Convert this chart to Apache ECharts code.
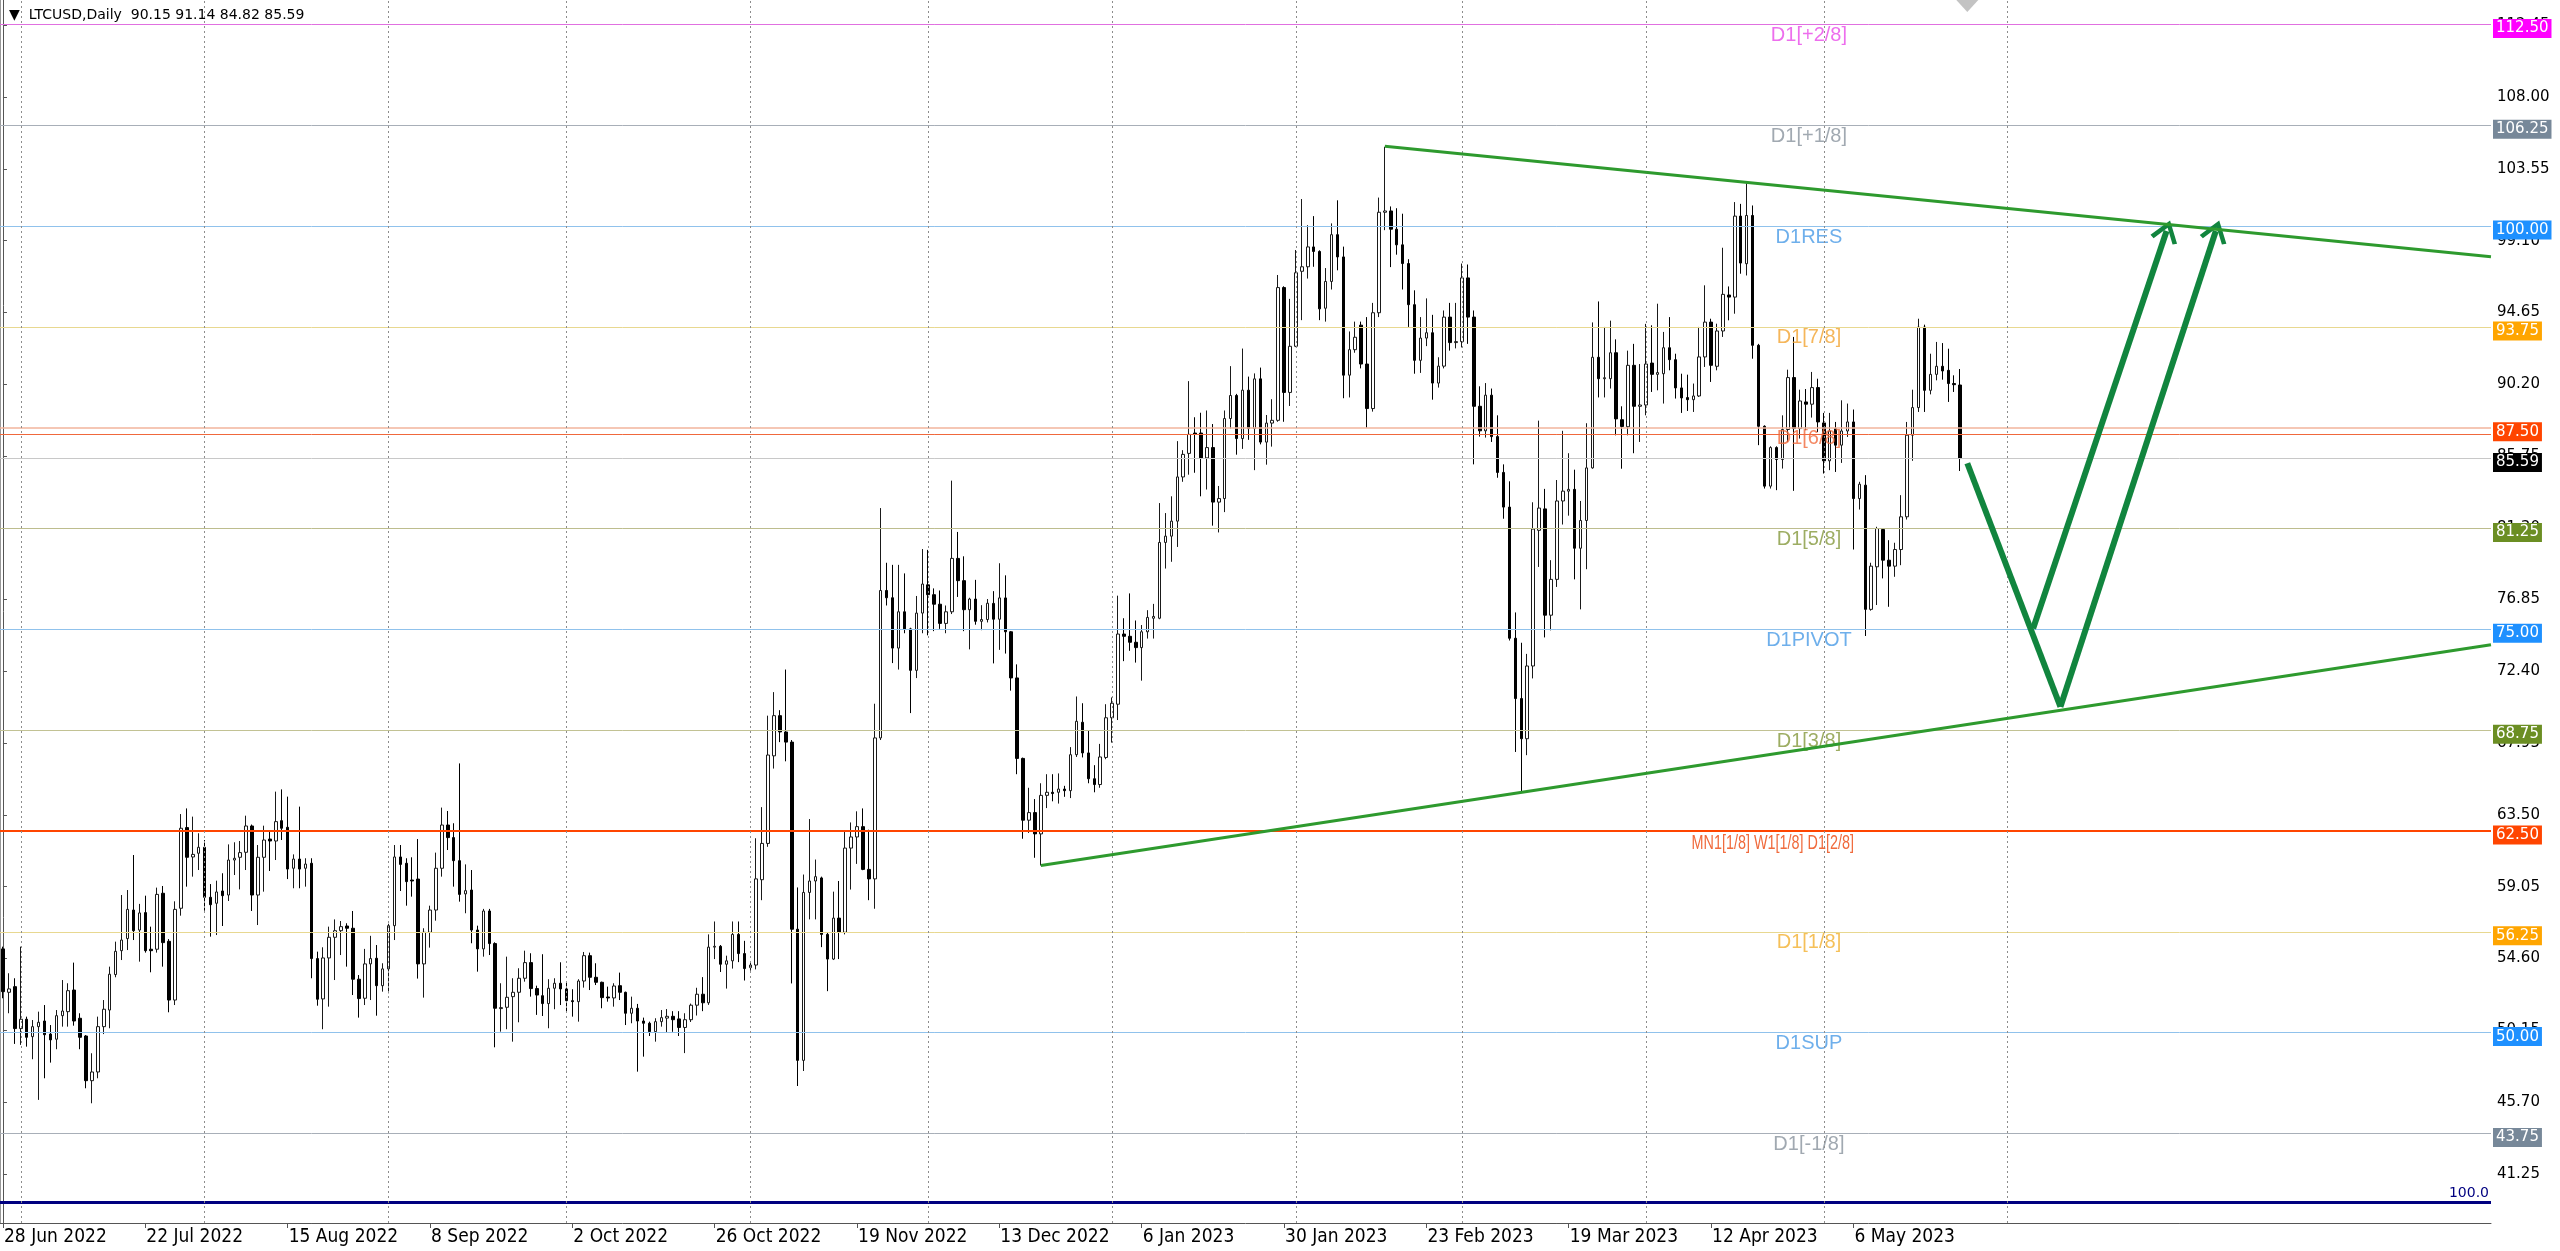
<!DOCTYPE html>
<html><head><meta charset="utf-8">
<script src="https://cdn.jsdelivr.net/npm/echarts@6/dist/echarts.min.js"></script>
<style>html,body{margin:0;padding:0;background:#fff;overflow:hidden}#c{width:2560px;height:1251px}</style>
</head><body><div id="c"></div>
<script>
// ---------------- data ----------------
const symbolName = 'LTCUSD,Daily';
const startDate = [2022, 5, 28]; // 28 Jun 2022 (first bar)
const openP = [55.19,52.50,52.85,50.25,50.83,49.75,50.37,50.72,49.91,49.59,51.05,51.30,52.64,50.89,49.79,47.02,47.56,50.37,51.40,53.60,55.08,55.83,57.60,56.36,57.44,55.17,55.17,58.64,55.66,52.02,57.71,62.71,60.89,61.12,61.49,58.39,58.02,58.78,58.53,60.70,60.87,61.18,62.81,58.53,60.87,62.00,61.88,63.14,62.73,60.19,60.76,60.19,60.50,54.59,52.09,54.63,55.91,56.32,56.61,56.47,53.31,52.13,54.26,54.61,52.91,53.95,56.63,60.89,60.50,59.46,59.52,54.26,56.22,57.60,60.19,62.87,62.09,60.66,58.60,58.84,56.36,55.19,57.54,55.52,51.49,51.57,52.23,52.50,53.37,54.34,52.73,52.29,51.80,52.75,53.06,52.71,51.98,51.92,53.20,54.77,53.43,53.12,52.21,52.15,52.91,52.50,51.20,51.51,50.72,50.58,50.06,50.68,50.90,51.01,50.85,50.32,50.80,51.70,52.38,51.85,55.30,55.35,54.24,54.45,56.09,54.90,54.03,54.19,59.48,61.73,67.16,69.65,68.64,68.01,56.41,48.28,58.69,59.40,59.59,56.09,54.56,57.10,56.22,61.44,62.13,62.77,60.12,59.53,68.27,77.41,76.96,73.84,76.09,75.03,72.46,76.01,77.76,77.15,76.56,75.37,76.09,79.40,78.02,76.22,76.88,75.50,75.61,76.61,75.63,76.95,74.85,71.99,67.00,63.17,63.64,62.32,64.71,64.90,64.90,65.10,65.00,67.23,69.24,67.34,65.74,65.38,67.06,69.52,70.36,74.71,74.57,74.20,73.87,74.85,75.69,75.69,80.39,80.78,81.71,84.45,85.91,87.17,87.17,85.63,86.27,82.89,83.11,88.07,89.50,86.83,89.83,87.45,90.53,86.61,87.79,87.96,96.19,89.69,92.55,97.20,97.48,98.71,98.43,94.91,96.57,99.47,98.09,90.76,92.34,93.86,91.45,88.69,94.63,100.86,100.94,99.81,98.84,97.68,95.13,91.68,93.06,93.39,90.27,91.32,94.36,92.78,92.84,96.79,94.36,88.83,87.31,89.52,86.95,84.73,82.58,74.45,70.71,68.22,72.73,81.14,82.47,75.88,78.10,82.96,83.57,83.68,80.03,81.75,85.01,91.87,90.54,90.54,92.15,88.00,87.56,91.37,88.83,88.91,91.51,90.81,90.85,92.46,91.72,89.97,89.37,89.24,89.47,91.89,94.05,91.31,93.50,95.73,95.60,100.62,97.67,100.66,92.61,87.59,83.88,86.27,85.53,87.39,90.61,87.45,89.10,88.96,89.99,87.80,85.45,87.45,86.42,87.30,87.86,83.11,83.94,76.24,78.88,81.19,79.29,78.92,79.95,81.98,87.04,88.75,93.74,89.82,90.81,91.31,91.06,90.24,90.15];
const highP = [55.33,53.68,53.37,55.33,50.99,50.78,51.30,51.71,50.47,51.40,53.26,53.06,54.34,51.20,49.85,48.72,50.99,52.02,54.09,55.64,58.53,58.84,61.01,57.98,58.49,56.57,58.99,59.09,55.80,58.14,63.55,63.90,63.39,62.36,61.94,59.21,59.42,59.88,61.67,61.80,61.88,63.45,62.90,61.63,62.83,62.46,64.94,65.08,64.63,61.05,64.01,60.81,60.81,55.02,55.29,56.57,57.02,56.92,56.78,57.54,53.57,55.19,56.00,55.43,54.30,56.75,61.63,61.63,60.81,60.87,62.00,56.47,57.87,61.16,63.95,63.74,62.98,66.69,60.43,60.08,56.63,57.67,57.67,55.60,53.06,54.71,53.37,53.99,55.08,54.92,52.91,54.86,53.31,53.37,54.36,53.16,52.69,53.31,55.00,54.96,54.30,53.16,52.85,53.06,53.72,52.54,52.23,51.78,50.93,50.68,50.89,51.40,51.46,51.33,51.33,51.20,51.80,52.78,53.44,56.09,56.89,55.43,54.77,56.89,56.89,55.69,54.37,62.05,63.98,69.65,71.11,69.99,72.51,68.14,59.00,59.80,63.24,60.73,59.67,56.20,58.74,59.40,62.50,63.03,63.72,63.90,62.58,70.39,82.52,79.13,79.00,79.00,78.47,75.10,77.07,79.98,79.93,77.54,77.41,76.48,84.22,81.04,79.53,76.96,78.07,76.50,76.88,77.37,79.10,78.35,74.90,72.83,67.05,65.18,64.48,65.46,66.02,66.02,66.07,65.30,67.70,70.84,70.42,68.74,66.58,67.90,70.36,70.78,77.09,75.69,77.23,75.55,75.27,76.19,76.58,82.83,82.21,83.25,86.67,86.11,90.39,88.15,88.43,88.57,87.73,83.89,88.57,91.32,89.60,92.41,90.67,90.87,91.23,88.29,89.27,96.97,96.27,95.49,98.52,101.68,100.06,100.62,98.50,97.40,100.17,101.60,98.73,93.47,94.08,94.08,94.36,95.24,101.77,104.92,101.22,101.11,100.77,97.95,96.02,94.36,95.52,94.50,91.87,94.77,95.24,95.24,97.68,97.62,94.77,90.07,90.27,89.93,88.27,85.23,84.18,76.05,74.17,73.48,82.88,87.94,83.71,79.29,84.26,87.31,85.92,84.90,82.96,87.78,94.03,95.33,93.75,94.14,92.98,88.83,92.28,92.70,91.45,93.94,93.85,95.19,93.44,94.36,92.09,90.85,90.79,90.24,93.75,96.33,94.26,93.95,98.66,96.26,101.49,101.38,102.66,101.28,92.70,87.65,86.35,86.35,88.27,91.10,93.13,89.86,89.90,90.96,90.54,88.42,88.42,87.86,89.20,89.00,88.63,84.15,84.56,79.13,81.36,81.25,80.53,80.37,83.32,87.86,89.86,94.26,93.89,92.09,92.82,92.75,92.40,90.75,91.14];
const lowP = [52.13,51.20,49.30,49.24,49.13,48.35,45.83,47.17,48.14,48.97,50.37,50.37,50.43,48.97,46.55,45.62,47.17,49.91,50.27,53.43,54.50,55.12,55.74,54.40,54.96,53.74,54.96,54.09,51.26,51.71,57.25,59.05,59.67,60.08,57.56,55.95,56.05,56.61,58.16,59.77,58.88,60.08,57.54,56.67,58.74,60.02,60.70,61.94,59.52,58.95,58.95,59.05,53.37,51.67,50.21,51.61,53.26,54.81,54.09,52.33,50.93,51.71,52.02,51.05,52.54,52.44,55.74,58.78,57.87,58.43,53.35,52.17,55.27,56.94,59.67,61.32,59.05,58.12,57.40,55.54,53.78,54.71,54.81,49.09,50.06,50.21,49.44,50.64,53.16,52.23,51.10,51.03,50.27,51.45,51.71,51.30,50.99,50.68,52.79,52.64,52.95,51.51,51.92,51.61,52.02,50.47,50.58,47.58,48.51,49.79,49.44,50.37,50.00,50.05,49.79,48.73,50.66,51.06,51.33,51.72,54.56,53.76,52.73,53.97,54.37,53.23,53.84,53.92,58.21,61.52,66.37,68.01,66.82,53.05,46.69,47.62,57.02,57.02,55.30,52.57,54.50,54.56,56.09,58.87,60.46,60.07,58.21,57.68,68.14,76.48,72.91,72.51,74.76,69.81,71.98,74.76,74.63,74.89,75.03,74.76,75.95,77.01,74.89,73.76,75.29,74.95,75.43,72.89,73.73,73.50,71.20,66.02,62.02,62.38,60.84,60.36,63.92,64.34,64.20,64.62,64.54,67.09,67.06,65.46,64.90,65.18,66.95,67.98,69.38,73.03,73.67,72.94,71.82,74.43,74.43,75.63,78.77,79.19,80.11,84.15,84.59,84.71,83.25,83.67,81.43,81.01,82.27,87.45,85.83,86.19,86.75,84.87,86.47,85.21,86.33,87.87,87.87,88.85,92.50,94.17,96.75,97.48,94.17,94.08,96.07,97.26,89.33,89.38,92.15,91.18,87.50,88.50,94.36,99.75,97.46,98.23,96.07,93.75,90.85,90.90,92.56,89.24,89.99,91.18,92.28,92.42,92.48,92.70,85.23,86.95,86.89,86.62,84.40,81.86,74.31,67.40,64.91,67.20,71.96,78.87,74.50,74.94,77.63,81.50,82.05,78.10,76.24,78.73,84.96,89.38,89.38,89.93,87.03,84.96,87.03,85.92,86.62,88.27,89.72,89.82,89.00,91.06,89.31,88.42,88.54,88.48,89.41,91.27,90.34,91.06,93.13,94.16,94.57,97.05,96.94,91.78,86.42,83.73,83.73,83.63,84.97,86.62,83.59,86.83,87.35,88.13,87.24,84.66,84.87,84.76,85.32,86.93,79.95,82.43,74.59,76.16,76.51,78.16,76.40,78.26,78.98,81.81,85.45,88.48,88.48,89.57,90.44,90.48,89.10,89.72,84.82];
const closeP = [52.54,52.71,50.25,50.83,49.71,50.37,50.64,49.87,49.55,51.05,51.34,52.60,50.72,49.71,47.02,47.56,50.37,51.45,53.62,55.04,55.74,57.64,56.32,57.42,55.08,55.08,58.57,55.58,52.02,57.64,62.67,60.87,61.05,61.49,58.39,57.93,58.72,58.49,60.70,60.81,61.16,62.81,58.53,60.87,61.94,61.88,63.08,62.67,60.14,60.76,60.14,60.45,54.59,52.07,54.63,55.91,56.32,56.57,56.47,53.31,52.11,54.26,54.59,52.91,53.95,56.63,60.89,60.43,59.36,59.40,54.26,56.22,57.60,60.19,62.87,62.09,60.66,58.57,58.80,56.36,55.19,57.54,55.52,51.51,51.55,52.19,52.50,53.37,54.34,52.73,52.33,51.80,52.75,53.06,52.71,51.98,51.92,53.20,54.77,53.43,53.12,52.17,52.15,52.89,52.50,51.20,51.51,50.72,50.58,50.06,50.68,50.93,51.01,50.80,50.32,50.80,51.70,52.38,51.85,55.30,55.35,54.24,54.45,56.09,54.90,53.97,54.19,59.53,61.73,67.21,69.65,68.64,68.01,56.41,48.28,58.69,59.40,59.67,56.09,54.56,57.10,56.22,61.44,62.13,62.77,60.12,59.53,68.27,77.41,76.96,73.84,76.09,75.03,72.46,76.01,77.81,77.15,76.56,75.37,76.09,79.40,78.02,76.22,76.88,75.50,75.61,76.62,75.63,76.95,74.85,71.99,67.00,63.17,63.64,62.32,64.71,64.90,64.82,65.10,65.00,67.23,69.30,67.34,65.74,65.38,67.09,69.52,70.42,74.71,74.57,74.20,73.87,74.85,75.74,75.80,80.39,80.78,81.71,84.45,85.85,87.09,87.09,85.63,86.27,82.89,83.11,88.07,89.50,86.83,89.83,87.45,90.53,86.61,87.79,87.96,96.19,89.69,92.55,97.11,97.48,98.71,98.43,94.87,96.57,99.47,98.09,90.76,92.34,93.11,91.45,88.69,94.63,100.86,100.94,99.81,98.84,97.68,95.13,91.68,93.06,93.39,90.27,91.32,94.36,92.78,92.84,96.79,94.36,88.83,87.31,89.52,86.95,84.73,82.58,74.45,70.71,68.22,72.73,81.22,82.52,75.88,78.10,82.96,83.57,83.68,80.03,81.75,85.01,91.87,90.54,90.60,92.15,88.05,87.58,91.37,88.83,88.91,91.45,90.81,90.92,92.46,91.72,89.97,89.35,89.24,89.47,91.89,94.05,91.37,93.50,95.77,95.60,100.62,97.71,100.66,92.61,87.59,83.88,86.27,85.53,87.39,90.61,87.45,89.16,88.96,89.99,87.86,85.45,87.30,86.42,87.30,87.86,83.11,84.00,76.24,78.92,81.25,79.29,78.92,79.95,81.98,87.04,88.75,93.74,89.82,90.81,91.31,91.02,90.24,90.17,85.59];

const xTickLabels = ['28 Jun 2022','22 Jul 2022','15 Aug 2022','8 Sep 2022','2 Oct 2022','26 Oct 2022','19 Nov 2022','13 Dec 2022','6 Jan 2023','30 Jan 2023','23 Feb 2023','19 Mar 2023','12 Apr 2023','6 May 2023'];
const gridDates = ['1 Jul 2022','1 Aug 2022','1 Sep 2022','1 Oct 2022','1 Nov 2022','1 Dec 2022','1 Jan 2023','1 Feb 2023','1 Mar 2023','1 Apr 2023','1 May 2023','1 Jun 2023'];
const yTicks = [112.45,108.00,103.55,99.10,94.65,90.20,85.75,81.30,76.85,72.40,67.95,63.50,59.05,54.60,50.15,45.70,41.25];

const levelPrices = [112.5,106.25,100,93.75,87.5,81.25,75,68.75,62.5,56.25,50,43.75];
const levelNames = ['D1[+2/8]','D1[+1/8]','D1RES','D1[7/8]','D1[6/8]','D1[5/8]','D1PIVOT','D1[3/8]','MN1[1/8] W1[1/8] D1[2/8]','D1[1/8]','D1SUP','D1[-1/8]'];
const extraLevel = 87.09;        // second, unlabelled line under D1[6/8]
const bidPrice = closeP[closeP.length-1];
const bottomLevel = 39.5;        // navy indicator line, labelled "100.0"
const bottomLevelText = '100.0';

// drawn objects (bar index, price)
const upperTrend = [[233,104.95],[419.5,98.1]];
const lowerTrend = [[175,60.36],[419.5,74.05]];
const downLeg = [[331.2,85.3],[346.9,70.2]];
const arrowA = [[342.3,75.05],[364.8,99.7]];
const arrowB = [[346.9,70.2],[373.1,99.7]];

// ---------------- styles ----------------
const levelLineColors = ['#E070E0','#A8AFB8','#90C2EC','#E8D890','#F2B49C','#BDBD8E','#90C2EC','#C2C294','#FF4500','#E8D890','#90C2EC','#A8AFB8'];
const levelLineWidths = [1,1,1,1,1.5,1,1,1,2,1,1,1];
const levelBoxColors = ['#FF00FF','#778899','#1E90FF','#FFA500','#FF4500','#6B8E23','#1E90FF','#6B8E23','#FF4500','#FFA500','#1E90FF','#778899'];
const levelTextColors = ['#E84AE8','#8A949E','#4A9BE6','#F2A431','#F06A3C','#84993C','#4A9BE6','#84993C','#F06A3C','#F2B030','#4A9BE6','#8A949E'];
const levelTextScaleX = [1,1,1,1,1,1,1,1,0.72,1,1,1];
const levelTextX = [304.5,304.5,304.5,304.5,304.5,304.5,304.5,304.5,298.4,304.5,304.5,304.5];
const totalBars = 420;

const months = ['Jan','Feb','Mar','Apr','May','Jun','Jul','Aug','Sep','Oct','Nov','Dec'];
const cats = [];
for (let i = 0; i < totalBars; i++) {
  const d = new Date(Date.UTC(startDate[0], startDate[1], startDate[2] + i));
  cats.push(d.getUTCDate() + ' ' + months[d.getUTCMonth()] + ' ' + d.getUTCFullYear());
}
const candleData = openP.map((o, i) => [o, closeP[i], lowP[i], highP[i]]);
const showTick = (idx, val) => xTickLabels.indexOf(val) >= 0;

const boxLabel = (txt, bg) => ({ show: true, position: 'end', distance: 2, offset: [0, 4], formatter: txt,
  backgroundColor: bg, color: '#fff', padding: [3, 3, 1, 3], fontFamily: 'DejaVu Sans', fontSize: 15 });
const levelMarks = levelPrices.map((p, i) => ({
  yAxis: p,
  lineStyle: { color: levelLineColors[i], width: levelLineWidths[i], type: 'solid' },
  label: boxLabel(p.toFixed(2), levelBoxColors[i])
}));
levelMarks.push({ yAxis: extraLevel, lineStyle: { color: '#F0683C', width: 1, type: 'solid' }, label: { show: false } });
levelMarks.push({ yAxis: bidPrice, lineStyle: { color: '#C8C8C8', width: 1, type: 'solid' },
  label: boxLabel(bidPrice.toFixed(2), '#000') });
levelMarks.push({ yAxis: bottomLevel, lineStyle: { color: '#000080', width: 3, type: 'solid' },
  label: { show: true, position: 'insideEndTop', distance: 2, formatter: bottomLevelText, color: '#000080',
    fontFamily: 'DejaVu Sans', fontSize: 14 } });
gridDates.forEach(g => levelMarks.push({ xAxis: cats.indexOf(g),
  lineStyle: { color: '#8C8C8C', width: 1, type: [2, 3] }, label: { show: false } }));

const chevron = 'path://M0,0 L14,18 L10,20 L0,7 L-10,20 L-14,18 Z';

const option = {
  animation: false,
  backgroundColor: '#fff',
  title: { text: '\u25BC  ' + symbolName + '  ' + [openP, highP, lowP, closeP].map(a => a[a.length-1].toFixed(2)).join(' '),
    left: 4, top: 3, textStyle: { fontFamily: 'DejaVu Sans', fontSize: 14, fontWeight: 'normal', color: '#000' } },
  grid: { left: 0, right: 69, top: 0, bottom: 28, containLabel: false },
  xAxis: [
    { type: 'category', data: cats, boundaryGap: true,
      axisLine: { show: true, lineStyle: { color: '#555', width: 1 } },
      axisTick: { show: true, alignWithLabel: true, interval: showTick, length: 5, lineStyle: { color: '#555' } },
      axisLabel: { interval: showTick, align: 'left', margin: 5, padding: [0, 0, 0, 1], color: '#000',
        fontFamily: 'DejaVu Sans Condensed', fontSize: 19 },
      splitLine: { show: false } },
    { type: 'value', min: -0.5, max: totalBars - 0.5, show: false }
  ],
  yAxis: [
    { type: 'value', position: 'right', min: 38.197, max: 114.019, scale: true,
      axisLine: { show: true, lineStyle: { color: '#555', width: 1 } },
      axisTick: { show: true, customValues: yTicks, length: 4, lineStyle: { color: '#555' } },
      axisLabel: { customValues: yTicks, formatter: v => v.toFixed(2), margin: 6, color: '#000',
        fontFamily: 'DejaVu Sans', fontSize: 15 },
      splitLine: { show: false } },
    { type: 'value', position: 'left', min: 38.197, max: 114.019, axisLine: { show: true, lineStyle: { color: '#999', width: 2 } },
      axisTick: { show: false }, axisLabel: { show: false }, splitLine: { show: false } }
  ],
  series: [
    { type: 'line', xAxisIndex: 1, yAxisIndex: 0, data: [[-5, 60]], showSymbol: false, silent: true, z: 1,
      lineStyle: { width: 0 },
      markLine: { silent: true, symbol: 'none', animation: false, data: levelMarks } },
    { type: 'candlestick', xAxisIndex: 0, yAxisIndex: 0, data: candleData, barWidth: 3, z: 3,
      itemStyle: { color: '#fff', color0: '#000', borderColor: '#1a1a1a', borderColor0: '#000', borderWidth: 1 } },
    { type: 'scatter', xAxisIndex: 1, yAxisIndex: 0, symbolSize: 0, silent: true, z: 4,
      data: levelPrices.map((p, i) => ({ value: [levelTextX[i], p],
        label: { show: levelTextScaleX[i] === 1, position: 'bottom', distance: 1, formatter: levelNames[i], color: levelTextColors[i],
          fontFamily: 'Liberation Sans', fontSize: 20 } })) },
    { type: 'line', xAxisIndex: 1, yAxisIndex: 0, data: upperTrend, showSymbol: false, silent: true, z: 5,
      lineStyle: { color: '#2E9A2E', width: 3 } },
    { type: 'line', xAxisIndex: 1, yAxisIndex: 0, data: lowerTrend, showSymbol: false, silent: true, z: 5,
      lineStyle: { color: '#2E9A2E', width: 3 } },
    { type: 'line', xAxisIndex: 1, yAxisIndex: 0, data: downLeg, showSymbol: false, silent: true, z: 6,
      lineStyle: { color: '#11853E', width: 6 } },
    { type: 'line', xAxisIndex: 1, yAxisIndex: 0, data: [], silent: true, z: 6,
      markLine: { silent: true, symbol: ['none', chevron], symbolSize: [28, 22], animation: false,
        lineStyle: { color: '#11853E', width: 6, type: 'solid' }, label: { show: false },
        data: [arrowA, arrowB].map(a => [{ coord: a[0] }, { coord: a[1] }]) } },
    { type: 'scatter', xAxisIndex: 1, yAxisIndex: 0, silent: true, z: 7, symbol: 'diamond', symbolSize: [22, 24],
      itemStyle: { color: '#B4B4B4' }, data: [[downLeg[0][0], 114.019]] }
  ]
};
const chart = echarts.init(document.getElementById('c'), null, { renderer: 'canvas' });
chart.setOption(option);
// condensed level labels: placed through the chart's own axes
const condensed = [];
levelPrices.forEach((p, i) => {
  if (levelTextScaleX[i] === 1) return;
  const pt = chart.convertToPixel({ xAxisIndex: 1, yAxisIndex: 0 }, [levelTextX[i], p]);
  condensed.push({ type: 'text', x: pt[0], y: pt[1] + 2, scaleX: levelTextScaleX[i], z: 10, silent: true,
    style: { text: levelNames[i], fill: levelTextColors[i], font: '20px "Liberation Sans"', align: 'center', verticalAlign: 'top' } });
});
chart.setOption({ graphic: condensed });
</script></body></html>
